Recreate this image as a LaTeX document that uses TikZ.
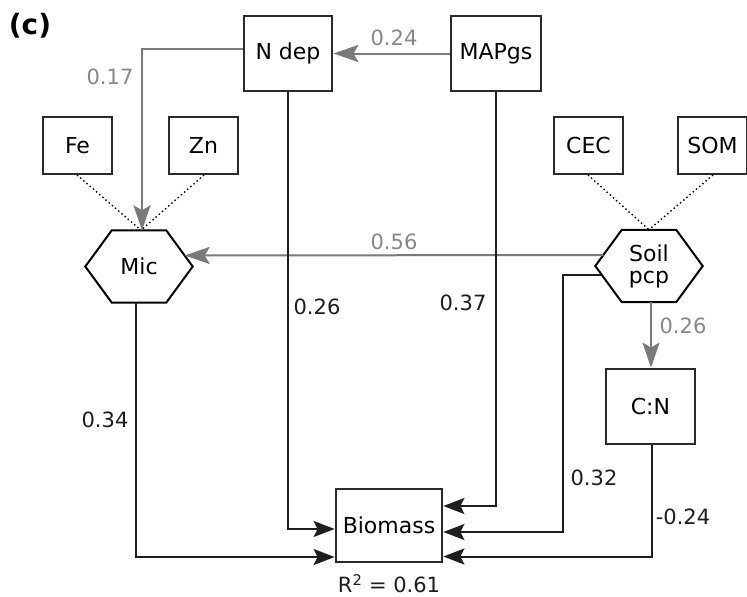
\documentclass[tikz,border=0pt]{standalone}
\usepackage{fontspec}
\setmainfont{DejaVu Sans}
\usetikzlibrary{arrows.meta,calc}
\definecolor{boxc}{HTML}{2A2A2A}
\definecolor{linec}{HTML}{1E1E1E}
\definecolor{grayl}{HTML}{7A7A7A}
\definecolor{grayt}{HTML}{888888}
\newcommand\hexframe[1]{\draw[hexline] (#1.west) -- ($(#1.north west)+(26.5,0)$) -- ($(#1.north east)+(-26.5,0)$) -- (#1.east) -- ($(#1.south east)+(-26.5,0)$) -- ($(#1.south west)+(26.5,0)$) -- cycle;}
\tikzset{
  boxnode/.style={draw=boxc, line width=2.8pt, inner sep=0pt, fill=white},
  hexnode/.style={inner sep=0pt, minimum width=107pt, minimum height=72pt, align=center},
  hexline/.style={draw=black, line width=2pt, line join=miter},
  conn/.style={draw=linec, line width=2pt, -{Stealth[length=21pt,width=16pt,inset=4pt]}},
  gconn/.style={draw=grayl, line width=2pt, -{Stealth[length=25pt,width=17pt,inset=5pt]}},
  dots/.style={draw=black, line width=2pt, dash pattern=on 0pt off 4.2pt, line cap=round},
  lab/.style={font=\fontsize{21}{24}\selectfont, text=linec, inner sep=0pt},
  glab/.style={lab, text=grayt}
}
\begin{document}
\begin{tikzpicture}[x=1pt, y=-1pt, font=\fontsize{22}{25}\selectfont]
\fill[white] (0,0) rectangle (747,597);
\useasboundingbox (0,0) rectangle (747,597);

% title
\node[inner sep=0pt, font=\fontsize{28}{30}\selectfont\bfseries] (title) at (30,26) {(c)};

% boxes
\node[boxnode, minimum width=88pt, minimum height=75pt] (ndep) at (288,53.5) {N dep};
\node[boxnode, minimum width=90pt, minimum height=75pt] (map) at (496,53.5) {MAPgs};
\node[boxnode, minimum width=69pt, minimum height=57pt] (fe) at (77.5,145.5) {Fe};
\node[boxnode, minimum width=69pt, minimum height=57pt] (zn) at (203.5,145.5) {Zn};
\node[boxnode, minimum width=69pt, minimum height=57pt] (cec) at (588.5,145.5) {CEC};
\node[boxnode, minimum width=69pt, minimum height=57pt] (som) at (712.5,145.5) {SOM};
\node[boxnode, minimum width=89pt, minimum height=75pt] (cn) at (650.5,406.5) {C:N};
\node[boxnode, minimum width=106pt, minimum height=73pt] (bio) at (389,525.5) {Biomass};

% hexagons
\node[hexnode] (mic) at (139,266.5) {Mic};
\node[hexnode, font=\fontsize{22}{22}\selectfont] (soil) at (649,266) {Soil\\pcp};

% dotted indicator links
\draw[dots] (fe.south) -- ([xshift=2pt]mic.north);
\draw[dots] (zn.south) -- ([xshift=2pt]mic.north);
\draw[dots] (cec.south) -- (soil.north);
\draw[dots] (som.south) -- (soil.north);

\hexframe{mic}
\hexframe{soil}

% gray paths
\draw[gconn] (map.west) -- (ndep.west -| ndep.east);
\draw[gconn] ($(ndep.west)+(0,-4.5)$) -| ([xshift=3pt]mic.north);
\draw[gconn] ($(soil.west)+(8,-11)$) -- ($(mic.east)+(-8,-11)$);
\draw[gconn] ([xshift=2pt]soil.south) -- ([xshift=0.5pt]cn.north);

% black paths
\draw[conn] (ndep.south) |- ($(bio.west)+(0,3.5)$);
\draw[conn] ([xshift=-3pt]mic.south) |- ($(bio.west)+(0,31.5)$);
\draw[conn] (map.south) |- ($(bio.east)+(0,-19.5)$);
\coordinate (soilbend) at (563,275);
\draw[conn] ($(soil.west)+(6.5,9)$) -- (soilbend) |- ($(bio.east)+(0,6.5)$);
\draw[conn] ([xshift=1.5pt]cn.south) |- ($(bio.east)+(0,31)$);

% labels
\node[glab] (l024) at (394,38) {0.24};
\node[glab] (l017) at (110,77) {0.17};
\node[glab] (l056) at (394,242) {0.56};
\node[glab] (l026g) at (683,326) {0.26};
\node[lab] (l026) at (317,307) {0.26};
\node[lab] (l037) at (463,303) {0.37};
\node[lab] (l034) at (105,420) {0.34};
\node[lab] (l032) at (594,478) {0.32};
\node[lab] (l024n) at (683,517) {-0.24};
\node[lab] (r2) at (389,583.5) {R\textsuperscript{2} = 0.61};
\end{tikzpicture}
\end{document}
